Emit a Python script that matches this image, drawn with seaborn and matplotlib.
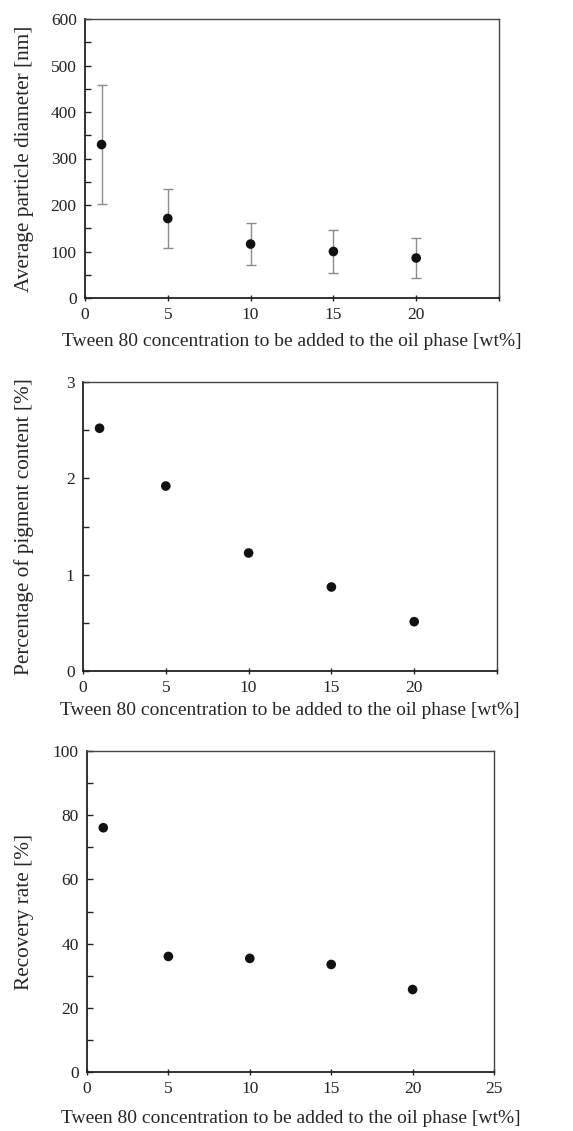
import numpy as np
import pandas as pd
import matplotlib.pyplot as plt
import seaborn as sns
from matplotlib.ticker import MultipleLocator

# data
tween = [1, 5, 10, 15, 20]
diameter = [330, 171, 116, 100, 86]
diameter_err = [128, 63, 46, 46, 42]
pigment = [2.52, 1.92, 1.225, 0.872, 0.512]
recovery = [76.1, 36.0, 35.4, 33.5, 25.7]

xlabel = 'Tween 80 concentration to be added to the oil phase [wt%]'

sns.set_style('ticks')
plt.rcParams['font.family'] = ['Liberation Serif', 'DejaVu Serif']
plt.rcParams['font.size'] = 12

df = pd.DataFrame({'Tween': tween, 'Diameter': diameter, 'Err': diameter_err,
                   'Pigment': pigment, 'Recovery': recovery})

fig = plt.figure(figsize=(5.73, 11.31), dpi=100)

# axes boxes in pixels (left, top, right, bottom) measured on the reference
boxes = [(85, 19, 499, 298), (83, 382, 497, 671), (87, 751, 494, 1072)]
W, H = 573, 1131
axes = []
for l, t, r, b in boxes:
    axes.append(fig.add_axes([l / W, 1 - b / H, (r - l) / W, (b - t) / H]))
ax1, ax2, ax3 = axes

# 1. particle diameter with error bars
ax1.errorbar(df['Tween'], df['Diameter'], yerr=df['Err'], fmt='none',
             ecolor='#8c8c8c', elinewidth=1.0, capsize=3.5, capthick=1.0, zorder=2)
sns.scatterplot(data=df, x='Tween', y='Diameter', ax=ax1, color='#111111',
                s=48, edgecolor='none', zorder=3)
ax1.set_ylim(0, 600)
ax1.yaxis.set_major_locator(MultipleLocator(100))
ax1.yaxis.set_minor_locator(MultipleLocator(50))
ax1.set_ylabel('Average particle diameter [nm]', fontsize=15.3)

# 2. pigment content
sns.scatterplot(data=df, x='Tween', y='Pigment', ax=ax2, color='#111111',
                s=48, edgecolor='none', zorder=3)
ax2.set_ylim(0, 3)
ax2.yaxis.set_major_locator(MultipleLocator(1))
ax2.yaxis.set_minor_locator(MultipleLocator(0.5))
ax2.set_ylabel('Percentage of pigment content [%]', fontsize=15.3)

# 3. recovery rate
sns.scatterplot(data=df, x='Tween', y='Recovery', ax=ax3, color='#111111',
                s=48, edgecolor='none', zorder=3)
ax3.set_ylim(0, 100)
ax3.yaxis.set_major_locator(MultipleLocator(20))
ax3.yaxis.set_minor_locator(MultipleLocator(10))
ax3.set_ylabel('Recovery rate [%]', fontsize=15.3)

for ax, (l, t, r, b) in zip(axes, boxes):
    ax.set_xlim(0, 25)
    ax.xaxis.set_major_locator(MultipleLocator(5))
    ax.set_xlabel(xlabel, fontsize=14)
    ax.tick_params(axis='y', which='both', direction='in', length=4, width=1,
                   labelsize=12.5, pad=6, colors='#222222')
    ax.tick_params(axis='x', which='major', direction='inout', length=5, width=1,
                   labelsize=12.5, pad=4, colors='#222222')
    # y label placed at the same page column as in the reference
    ax.yaxis.set_label_coords((34 - l) / (r - l), 0.5)
    for side in ['left', 'bottom']:
        ax.spines[side].set_linewidth(1.3)
        ax.spines[side].set_color('#222222')
    for side in ['top', 'right']:
        ax.spines[side].set_visible(True)
        ax.spines[side].set_linewidth(1.0)
        ax.spines[side].set_color('#444444')

# top two panels do not label the 25 tick
for ax in [ax1, ax2]:
    ax.set_xticks([0, 5, 10, 15, 20, 25])
    ax.set_xticklabels(['0', '5', '10', '15', '20', ''])

ax1.xaxis.labelpad = 7
ax2.xaxis.labelpad = 4.5
ax3.xaxis.labelpad = 9

fig.savefig('out.png', dpi=100)
